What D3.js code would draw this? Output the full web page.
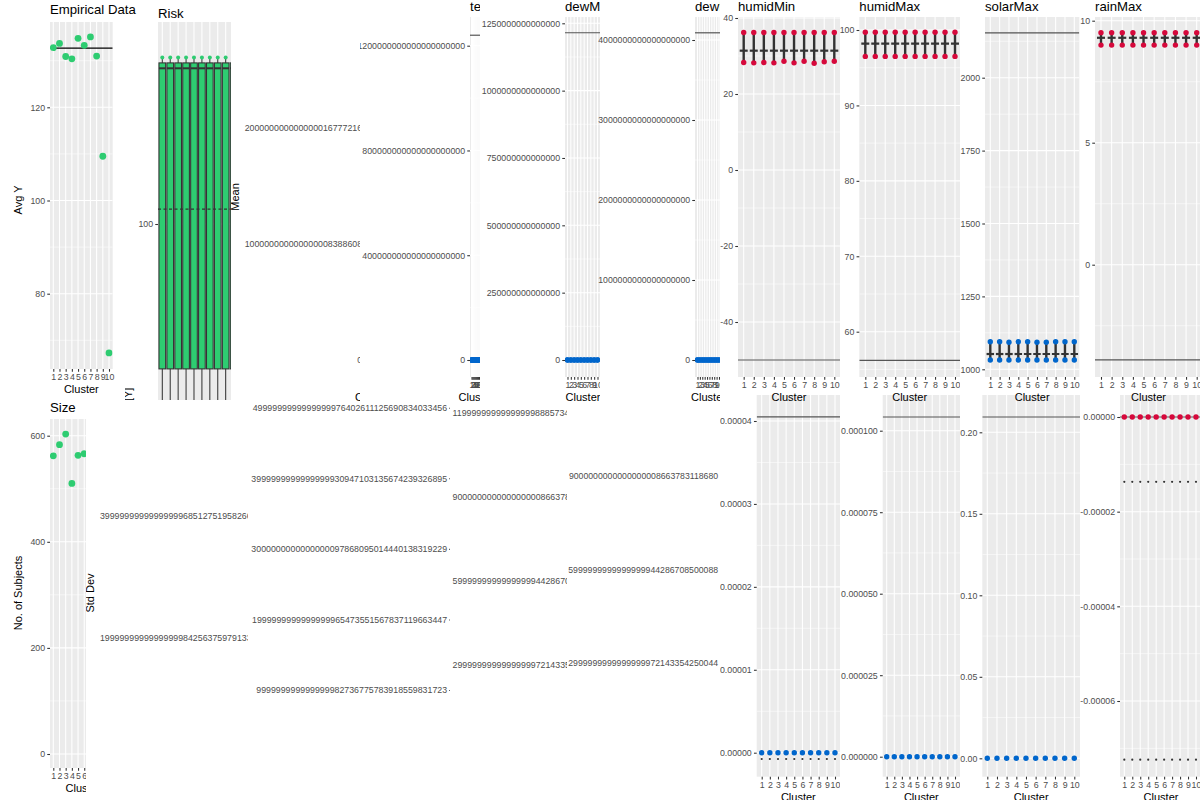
<!DOCTYPE html>
<html><head><meta charset="utf-8">
<script src="https://cdn.jsdelivr.net/npm/d3@7"></script>
<style>body{margin:0;background:#fff}svg{display:block}</style>
</head><body><svg id="c" width="1200" height="800"></svg>
<script>
// ---------------- DATA ----------------
const clusters = ["1","2","3","4","5","6","7","8","9","10"];

// Empirical Data (Avg Y)
const avgY = [132.8,133.7,130.9,130.4,134.8,133.3,135.1,131.0,109.5,67.3];
const avgYRef = 132.7;
const avgYTicks = [80,100,120];
const avgYLabels = ["80","100","120"];

// Size (only clusters 1-6 visible)
const sizeClusters = ["1","2","3","4","5","6"];
const sizeN = [562,583,603,510,563,566];
const sizeTicks = [0,200,400,600];
const sizeLabels = ["0","200","400","600"];

// Risk boxplots
const riskLower = [55,55,55,55,55,55,55,55,55,55];
const riskQ1    = [67.8,67.8,67.8,67.8,67.8,67.8,67.8,67.8,67.8,67.8];
const riskMed   = [134.6,134.6,134.6,134.6,134.6,134.6,134.6,134.6,134.6,134.6];
const riskQ3    = [135.8,135.8,135.8,135.8,135.8,135.8,135.8,135.8,135.8,135.8];
const riskUpper = [137.0,137.0,137.0,137.0,137.0,137.0,137.0,137.0,137.0,137.0];
const riskPt    = [137.0,137.0,137.0,137.0,137.0,137.0,137.0,137.0,137.0,137.0];
const riskMean  = 103.3;
const riskTicks = [100];
const riskLabels = ["100"];

// Mean column (tempMin)
const tempMinTicks = [0,1e23,2e23];
const tempMinLabels = ["0","100000000000000008388608","200000000000000016777216"];

// tempMax
const tempMaxTicks = [0,4e20,8e20,1.2e21];
const tempMaxLabels = ["0","400000000000000000000","800000000000000000000","1200000000000000000000"];
const tempMaxHi = [0,0,0,0,0,0,0,0,0,0];
const tempMaxLo = [0,0,0,0,0,0,0,0,0,0];
const tempMaxRef = 1.24e21;

// dewMin
const dewMinTicks = [0,2.5e14,5e14,7.5e14,1e15,1.25e15];
const dewMinLabels = ["0","250000000000000","500000000000000","750000000000000","1000000000000000","1250000000000000"];
const dewMinHi = [0,0,0,0,0,0,0,0,0,0];
const dewMinLo = [0,0,0,0,0,0,0,0,0,0];
const dewMinRef = 1.215e15;

// dewMax
const dewMaxTicks = [0,1e18,2e18,3e18,4e18];
const dewMaxLabels = ["0","1000000000000000000","2000000000000000000","3000000000000000000","4000000000000000000"];
const dewMaxHi = [0,0,0,0,0,0,0,0,0,0];
const dewMaxLo = [0,0,0,0,0,0,0,0,0,0];
const dewMaxRef = 4.09e18;

// humidMin
const humidMinTicks = [-40,-20,0,20,40];
const humidMinLabels = ["-40","-20","0","20","40"];
const humidMinHi = [36.2,36.2,36.2,36.2,36.2,36.2,36.2,36.2,36.2,36.2];
const humidMinLo = [28.3,28.2,28.3,28.2,28.6,28.2,28.6,28.1,28.5,28.6];
const humidMinMean = [31.4,31.4,31.4,31.4,31.4,31.4,31.4,31.4,31.4,31.4];
const humidMinRef = -50;

// humidMax
const humidMaxTicks = [60,70,80,90,100];
const humidMaxLabels = ["60","70","80","90","100"];
const humidMaxHi = [99.7,99.7,99.7,99.7,99.7,99.7,99.7,99.7,99.7,99.7];
const humidMaxLo = [96.5,96.5,96.5,96.5,96.5,96.5,96.5,96.5,96.5,96.5];
const humidMaxMean = [98.2,98.2,98.2,98.2,98.2,98.2,98.2,98.2,98.2,98.2];
const humidMaxRef = 56.2;

// solarMax
const solarMaxTicks = [1000,1250,1500,1750,2000];
const solarMaxLabels = ["1000","1250","1500","1750","2000"];
const solarMaxHi = [1094.5,1094.5,1092.9,1094.5,1094.5,1092.9,1092.9,1094.5,1094.5,1094.5];
const solarMaxLo = [1032,1032,1032,1032,1032,1032,1032,1032,1032,1032];
const solarMaxMean = [1052.4,1052.4,1052.4,1052.4,1052.4,1052.4,1052.4,1052.4,1052.4,1052.4];
const solarMaxRef = 2154;

// rainMax
const rainMaxTicks = [0,5,10];
const rainMaxLabels = ["0","5","10"];
const rainMaxHi = [9.51,9.51,9.51,9.51,9.51,9.51,9.51,9.51,9.51,9.51];
const rainMaxLo = [9.0,9.0,9.0,9.0,9.0,9.0,9.0,9.0,9.0,9.0];
const rainMaxMean = [9.3,9.3,9.3,9.3,9.3,9.3,9.3,9.3,9.3,9.3];
const rainMaxRef = -3.9;

// Std Dev column
const sdTicks = [2e30,4e30];
const sdLabels = ["1999999999999999984256375979133","3999999999999999968512751958266"];
// next odd columns
const b3Ticks = [1e39,2e39,3e39,4e39,5e39];
const b3Labels = ["999999999999999982736775783918559831723","1999999999999999965473551567837119663447",
  "3000000000000000097868095014440138319229","3999999999999999930947103135674239326895",
  "4999999999999999976402611125690834033456"];
const b4Ticks = [3e30,6e30,9e30,1.2e31];
const b4Labels = ["2999999999999999972143354250044","5999999999999999944286708500088",
  "9000000000000000008663783118680","11999999999999999888573417001760"];
const b5Ticks = [3e30,6e30,9e30];
const b5Labels = ["2999999999999999972143354250044","5999999999999999944286708500088","9000000000000000008663783118680"];

// bottom small panels
const sdHumidMinTicks = [0,1e-5,2e-5,3e-5,4e-5];
const sdHumidMinLabels = ["0.00000","0.00001","0.00002","0.00003","0.00004"];
const sdHumidMinPts = [0,0,0,0,0,0,0,0,0,0];
const sdHumidMinDots = [-7.6e-7,-7.6e-7,-7.6e-7,-7.6e-7,-7.6e-7,-7.6e-7,-7.6e-7,-7.6e-7,-7.6e-7,-7.6e-7];
const sdHumidMinRef = 4.05e-5;

const sdHumidMaxTicks = [0,2.5e-5,5e-5,7.5e-5,1e-4];
const sdHumidMaxLabels = ["0.000000","0.000025","0.000050","0.000075","0.000100"];
const sdHumidMaxPts = [0,0,0,0,0,0,0,0,0,0];
const sdHumidMaxRef = 1.042e-4;

const sdSolarTicks = [0,0.05,0.1,0.15,0.2];
const sdSolarLabels = ["0.00","0.05","0.10","0.15","0.20"];
const sdSolarPts = [0,0,0,0,0,0,0,0,0,0];
const sdSolarRef = 0.2094;

const sdRainTicks = [-6e-5,-4e-5,-2e-5,0];
const sdRainLabels = ["-0.00006","-0.00004","-0.00002","0.00000"];
const sdRainPts = [0,0,0,0,0,0,0,0,0,0];
const sdRainDotsA = [-1.37e-5,-1.37e-5,-1.37e-5,-1.37e-5,-1.37e-5,-1.37e-5,-1.37e-5,-1.37e-5,-1.37e-5,-1.37e-5];
const sdRainDotsB = [-7.24e-5,-7.24e-5,-7.24e-5,-7.24e-5,-7.24e-5,-7.24e-5,-7.24e-5,-7.24e-5,-7.24e-5,-7.24e-5];
const sdRainRef = 0;

// ---------------- DRAWING ----------------
const GREEN="#2ecc71", BLUE="#0066cc", RED="#d6083b", DARK="#333333", REFC="#555555";
const FONT='"Liberation Sans", Arial, Helvetica, sans-serif';
const svg = d3.select("#c").attr("font-family",FONT);
const defs = svg.append("defs");
let cid = 0;
function clipG(parent,x0,y0,x1,y1){
  const id="cp"+(cid++);
  defs.append("clipPath").attr("id",id).append("rect").attr("x",x0).attr("y",y0).attr("width",x1-x0).attr("height",y1-y0);
  return parent.append("g").attr("clip-path",`url(#${id})`);
}
function styleAxis(ga,fs){
  ga.select(".domain").remove();
  ga.attr("font-size",fs||8.8).attr("font-family",FONT);
  ga.selectAll(".tick line").attr("stroke",DARK).attr("stroke-width",1.07);
  ga.selectAll(".tick text").attr("fill","#4d4d4d");
}
function hline(g,x1,x2,yy,color,w,dash){
  const ln=g.append("line").attr("x1",x1).attr("x2",x2).attr("y1",yy).attr("y2",yy).attr("stroke",color).attr("stroke-width",w);
  if(dash) ln.attr("stroke-dasharray",dash);
}
function pts(g,x,y,cats,vals,color,r){
  g.append("g").selectAll("circle").data(vals).join("circle")
    .attr("cx",(d,i)=>x(cats[i])).attr("cy",d=>y(d)).attr("r",r).attr("fill",color);
}
function panel(c){
  const g = clipG(svg,...c.clip);
  const [l,t,r,b] = c.plot;
  const y = d3.scaleLinear().domain(c.yDom).range(c.yRng);
  const x = d3.scalePoint().domain(clusters).range(c.xRng);
  g.append("rect").attr("x",l).attr("y",t).attr("width",r-l).attr("height",b-t).attr("fill","#ebebeb");
  const inner = clipG(g,l,t,r,b);
  const tk=c.ticks;
  if(tk.length>1){
    const step=tk[1]-tk[0];
    const minors=[];
    for(let k=-4;k<tk.length+4;k++) minors.push(tk[0]+(k+0.5)*step);
    inner.append("g").selectAll("line").data(minors).join("line")
      .attr("x1",l).attr("x2",r).attr("y1",d=>y(d)).attr("y2",d=>y(d)).attr("stroke","#fff").attr("stroke-width",0.53);
  }
  inner.append("g").selectAll("line").data(tk).join("line")
    .attr("x1",l).attr("x2",r).attr("y1",d=>y(d)).attr("y2",d=>y(d)).attr("stroke","#fff").attr("stroke-width",1.07);
  inner.append("g").selectAll("line").data(clusters).join("line")
    .attr("x1",d=>x(d)).attr("x2",d=>x(d)).attr("y1",t).attr("y2",b).attr("stroke","#fff").attr("stroke-width",1.07);
  if(c.draw) c.draw(inner,x,y,l,r);
  const ga=g.append("g").attr("transform",`translate(${l},0)`)
    .call(d3.axisLeft(y).tickValues(tk).tickSize(2.75).tickPadding(2.2).tickFormat((d,i)=>c.labels[i]));
  styleAxis(ga,c.labelSize);
  if(c.labelStart!=null) ga.selectAll(".tick text").attr("text-anchor","start").attr("x",c.labelStart-l);
  const gx=g.append("g").attr("transform",`translate(0,${b})`)
    .call(d3.axisBottom(x).tickSize(2.75).tickPadding(2.2));
  styleAxis(gx);
  if(c.title) g.append("text").attr("x",l).attr("y",c.titleY).attr("font-size",13.2).attr("fill","#000").text(c.title);
  if(c.xTitle!==false) g.append("text").attr("x",(l+r)/2).attr("y",b+24).attr("text-anchor","middle").attr("font-size",11).attr("fill","#000").text("Cluster");
  if(c.yTitle) g.append("text").attr("transform",`translate(${c.yTitle[1]},${c.yTitle[2]}) rotate(-90)`)
    .attr("text-anchor","middle").attr("font-size",11).attr("fill","#000").text(c.yTitle[0]);
}
function weather(hi,lo,mean,ref,color){
  return (g,x,y,l,r)=>{
    hline(g,l,r,y(ref),REFC,1.2);
    g.append("g").selectAll("line").data(clusters).join("line")
      .attr("x1",d=>x(d)).attr("x2",d=>x(d)).attr("y1",(d,i)=>y(hi[i])).attr("y2",(d,i)=>y(lo[i]))
      .attr("stroke",DARK).attr("stroke-width",2.4);
    if(mean){
      const cw=Math.min(8,x.step()*0.8);
      g.append("g").selectAll("line").data(clusters).join("line")
        .attr("x1",d=>x(d)-cw/2).attr("x2",d=>x(d)+cw/2).attr("y1",(d,i)=>y(mean[i])).attr("y2",(d,i)=>y(mean[i]))
        .attr("stroke",DARK).attr("stroke-width",2.2);
    }
    pts(g,x,y,clusters,hi,color,2.7);
    pts(g,x,y,clusters,lo,color,2.7);
  };
}
function smallSd(p,color,ref,dotSets){
  return (g,x,y,l,r)=>{
    hline(g,l,r,y(ref),REFC,1.2);
    (dotSets||[]).forEach(ds=>pts(g,x,y,clusters,ds,DARK,1.1));
    pts(g,x,y,clusters,p,color,2.7);
  };
}

// ----- bottom row -----
panel({clip:[0,400,86,800],plot:[50,419,116,768],yDom:[600,0],yRng:[435.7,754],xRng:[53.3,109],
  ticks:sizeTicks,labels:sizeLabels,title:"Size",titleY:412,yTitle:["No. of Subjects",22,593],
  draw:(g,x,y)=>pts(g,x,y,sizeClusters,sizeN,GREEN,3.4)});
panel({clip:[86,400,248,800],plot:[256.5,420,300,770],yDom:[4e30,2e30],yRng:[515.7,637.7],xRng:[258,298],
  ticks:sdTicks,labels:sdLabels,yTitle:["Std Dev",94,593]});
panel({clip:[248,400,450,800],plot:[452,420,500,770],yDom:[5e39,1e39],yRng:[407.7,690],xRng:[454,498],
  ticks:b3Ticks,labels:b3Labels});
panel({clip:[451,400,567,800],plot:[620,420,660,770],yDom:[1.2e31,3e30],yRng:[413,665],xRng:[622,658],
  ticks:b4Ticks,labels:b4Labels,labelStart:452.5});
panel({clip:[567,400,720,800],plot:[723,420,760,770],yDom:[9e30,3e30],yRng:[476,663],xRng:[725,758],
  ticks:b5Ticks,labels:b5Labels,labelSize:8.7});
panel({clip:[720,395,840,800],plot:[756.7,395,840,776.7],yDom:[4e-5,0],yRng:[421,752.7],xRng:[761.7,835],
  ticks:sdHumidMinTicks,labels:sdHumidMinLabels,draw:smallSd(sdHumidMinPts,BLUE,sdHumidMinRef,[sdHumidMinDots])});
panel({clip:[840,395,960,800],plot:[882.7,395,960,776.7],yDom:[1e-4,0],yRng:[430.7,756.7],xRng:[886.7,955],
  ticks:sdHumidMaxTicks,labels:sdHumidMaxLabels,draw:smallSd(sdHumidMaxPts,BLUE,sdHumidMaxRef)});
panel({clip:[960,395,1080,800],plot:[982.3,395,1080,776.7],yDom:[0.2,0],yRng:[432.3,758.3],xRng:[987.3,1074.3],
  ticks:sdSolarTicks,labels:sdSolarLabels,draw:smallSd(sdSolarPts,BLUE,sdSolarRef)});
panel({clip:[1080,395,1200,800],plot:[1120,395,1202,776.7],yDom:[0,-6e-5],yRng:[417,701],xRng:[1124.3,1196],
  ticks:sdRainTicks,labels:sdRainLabels,draw:smallSd(sdRainPts,RED,sdRainRef,[sdRainDotsA,sdRainDotsB])});

// ----- top row -----
panel({clip:[0,0,150,402],plot:[50,22,112.7,369],yDom:[120,80],yRng:[107.3,293.7],xRng:[53.3,109],
  ticks:avgYTicks,labels:avgYLabels,title:"Empirical Data",titleY:13.5,yTitle:["Avg Y",22,200],
  draw:(g,x,y,l,r)=>{ hline(g,l,r,y(avgYRef),"#000",1.1); pts(g,x,y,clusters,avgY,GREEN,3.4); }});
panel({clip:[125,0,231,400],plot:[158,22,270,780],yDom:[100,150],yRng:[224,-1],xRng:[162.3,233.6],
  ticks:riskTicks,labels:riskLabels,title:"Risk",titleY:17.5,yTitle:["E[Y]",132,398],xTitle:false,
  draw:(g,x,y,l,r)=>{
    const w=6.67;
    const bx=g.append("g").selectAll("g").data(clusters).join("g");
    bx.append("line").attr("x1",d=>x(d)).attr("x2",d=>x(d)).attr("y1",(d,i)=>y(riskUpper[i])).attr("y2",(d,i)=>y(riskLower[i])).attr("stroke",DARK).attr("stroke-width",1.07);
    bx.append("rect").attr("x",d=>x(d)-w/2).attr("width",w).attr("y",(d,i)=>y(riskQ3[i])).attr("height",(d,i)=>y(riskQ1[i])-y(riskQ3[i]))
      .attr("fill",GREEN).attr("stroke",DARK).attr("stroke-width",1.07);
    bx.append("line").attr("x1",d=>x(d)-w/2).attr("x2",d=>x(d)+w/2).attr("y1",(d,i)=>y(riskMed[i])).attr("y2",(d,i)=>y(riskMed[i])).attr("stroke",DARK).attr("stroke-width",2);
    hline(g,l,r,y(riskMean),DARK,1.3,"3,2.5");
    pts(g,x,y,clusters,riskPt,GREEN,2);
  }});
panel({clip:[231,0,360,402],plot:[367,17,378,377],yDom:[0,2e23],yRng:[360,128],xRng:[368,377],
  ticks:tempMinTicks,labels:tempMinLabels,title:"tempMin",titleY:10.5,yTitle:["Mean",239,197]});
panel({clip:[360,0,480,402],plot:[470,17,482,377],yDom:[0,1.2e21],yRng:[360,45.7],xRng:[471.5,480],
  ticks:tempMaxTicks,labels:tempMaxLabels,title:"tempMax",titleY:10.5,
  draw:weather(tempMaxHi,tempMaxLo,null,tempMaxRef,BLUE)});
panel({clip:[480,0,600,402],plot:[565,17,601,377],yDom:[0,1.25e15],yRng:[360,23.3],xRng:[567.5,597.5],
  ticks:dewMinTicks,labels:dewMinLabels,title:"dewMin",titleY:10.5,
  draw:weather(dewMinHi,dewMinLo,null,dewMinRef,BLUE)});
panel({clip:[597,0,720,402],plot:[695,17,722,377],yDom:[0,4e18],yRng:[360,40],xRng:[697.5,719],
  ticks:dewMaxTicks,labels:dewMaxLabels,title:"dewMax",titleY:10.5,labelSize:8.7,
  draw:weather(dewMaxHi,dewMaxLo,null,dewMaxRef,BLUE)});
panel({clip:[720,0,840,402],plot:[738,17,840,377],yDom:[40,-40],yRng:[18,322],xRng:[743.7,834.3],
  ticks:humidMinTicks,labels:humidMinLabels,title:"humidMin",titleY:10.5,
  draw:weather(humidMinHi,humidMinLo,humidMinMean,humidMinRef,RED)});
panel({clip:[840,0,960,402],plot:[859.3,17,960,377],yDom:[100,60],yRng:[30,331.7],xRng:[865.3,955],
  ticks:humidMaxTicks,labels:humidMaxLabels,title:"humidMax",titleY:10.5,
  draw:weather(humidMaxHi,humidMaxLo,humidMaxMean,humidMaxRef,RED)});
panel({clip:[960,0,1080,402],plot:[985,17,1079.3,377],yDom:[2000,1000],yRng:[77.7,369.3],xRng:[990.3,1074.3],
  ticks:solarMaxTicks,labels:solarMaxLabels,title:"solarMax",titleY:10.5,
  draw:weather(solarMaxHi,solarMaxLo,solarMaxMean,solarMaxRef,BLUE)});
panel({clip:[1080,0,1200,402],plot:[1095,17,1202,377],yDom:[10,0],yRng:[20.7,264.7],xRng:[1101,1196.7],
  ticks:rainMaxTicks,labels:rainMaxLabels,title:"rainMax",titleY:10.5,
  draw:weather(rainMaxHi,rainMaxLo,rainMaxMean,rainMaxRef,RED)});
</script></body></html>
